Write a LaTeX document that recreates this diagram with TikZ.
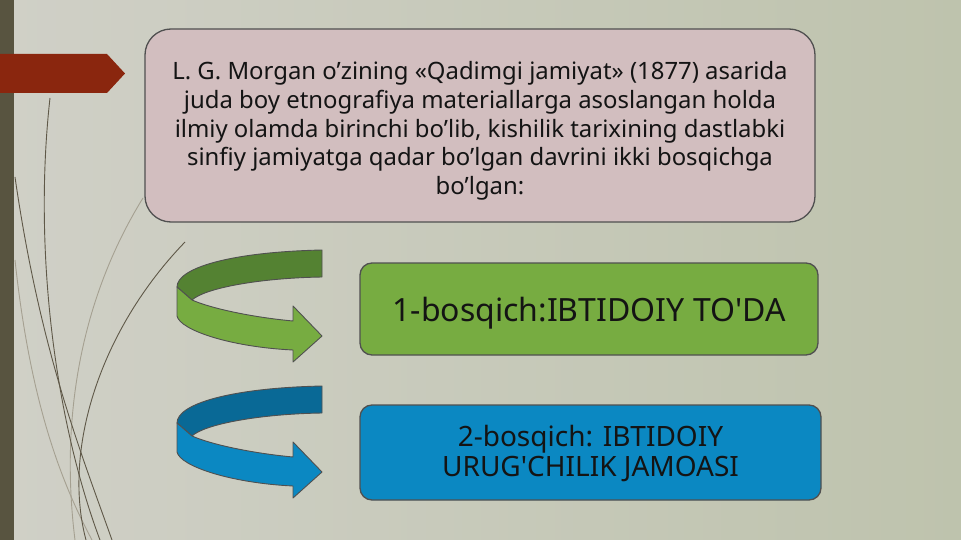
\documentclass[tikz,border=0pt]{standalone}
\usepackage{fontspec}
\setmainfont{Noto Sans}
\definecolor{bgL}{RGB}{208,208,199}
\definecolor{bgR}{RGB}{190,195,173}
\definecolor{strip}{RGB}{88,84,64}
\definecolor{tab}{RGB}{138,38,14}
\definecolor{pinkbox}{RGB}{210,190,191}
\definecolor{greenbox}{RGB}{119,172,65}
\definecolor{greendark}{RGB}{84,130,50}
\definecolor{bluebox}{RGB}{11,136,194}
\definecolor{bluedark}{RGB}{9,105,150}
\definecolor{edge}{RGB}{80,80,80}
\definecolor{wisp}{RGB}{95,88,72}
\definecolor{wispl}{RGB}{165,160,145}
\begin{document}
\begin{tikzpicture}[x=1pt,y=-1pt,
  box/.style={draw=edge, line width=1.3pt, inner sep=0pt},
  label text/.style={align=center, text=black!92, inner sep=0pt},
  band/.style={draw=edge, line width=0.9pt, line join=round},
  wispline/.style={draw=wisp, line width=0.9pt},
  wisplight/.style={draw=wispl, line width=0.9pt}]
\useasboundingbox (0,0) rectangle (961,540);
\shade[left color=bgL, right color=bgR] (0,0) rectangle (961,540);
% decorative wisps
\draw[wisplight] (143,198) .. controls (80,300) and (60,420) .. (75,540);
\draw[wisplight] (15,260) .. controls (30,400) and (60,480) .. (92,540);
\draw[wispline] (50,98) .. controls (33,250) and (55,420) .. (100,540);
\draw[wispline] (15,177) .. controls (40,350) and (80,450) .. (112,540);
\draw[wispline] (185,242) .. controls (100,330) and (62,450) .. (86,540);
% left strip and tab
\fill[strip] (0,0) rectangle (14,540);
\fill[tab] (0,54) -- (107,54) -- (125,73.5) -- (107,93) -- (0,93) -- cycle;
% boxes
\node[box, fill=pinkbox, rounded corners=26pt, minimum width=670pt, minimum height=193pt] (intro) at (480,125.5) {};
\node[label text, font=\fontsize{23.9}{28.7}\selectfont] (introtext) at (480,131)
  {L. G. Morgan o’zining «Qadimgi jamiyat» (1877) asarida\\
   juda boy etnografiya materiallarga asoslangan holda\\
   ilmiy olamda birinchi bo’lib, kishilik tarixining dastlabki\\
   sinfiy jamiyatga qadar bo’lgan davrini ikki bosqichga\\
   bo’lgan:};
\node[box, fill=greenbox, rounded corners=12pt, minimum width=458pt, minimum height=92pt] (stage1) at (589,309) {};
\node[label text, font=\fontsize{32}{36}\selectfont] (stage1text) at (589,313)
  {1-bosqich:IBTIDOIY TO\textquotesingle DA};
\node[box, fill=bluebox, rounded corners=12pt, minimum width=461pt, minimum height=95pt] (stage2) at (590.5,452.5) {};
\node[label text, font=\fontsize{28}{30}\selectfont] (stage2text) at (590.5,454)
  {2-bosqich: IBTIDOIY\\URUG\textquotesingle CHILIK JAMOASI};
% curved arrows
\foreach \dy/\cl/\cd in {0/greenbox/greendark, 136/bluebox/bluedark}{
  \begin{scope}[yshift=-\dy pt]
  \filldraw[band, fill=\cd] (322,250) .. controls (230,252) and (177,268) .. (177,287)
     -- (192,300) .. controls (205,288) and (260,278) .. (322,277) -- cycle;
  \filldraw[band, fill=\cl] (177,287) -- (177,316)
     .. controls (180,330) and (230,347) .. (293,350)
     -- (293,362) -- (322,336) -- (293,306) -- (293,321)
     .. controls (250,317) and (210,308) .. (192,300) -- cycle;
  \end{scope}
}
\end{tikzpicture}
\end{document}
